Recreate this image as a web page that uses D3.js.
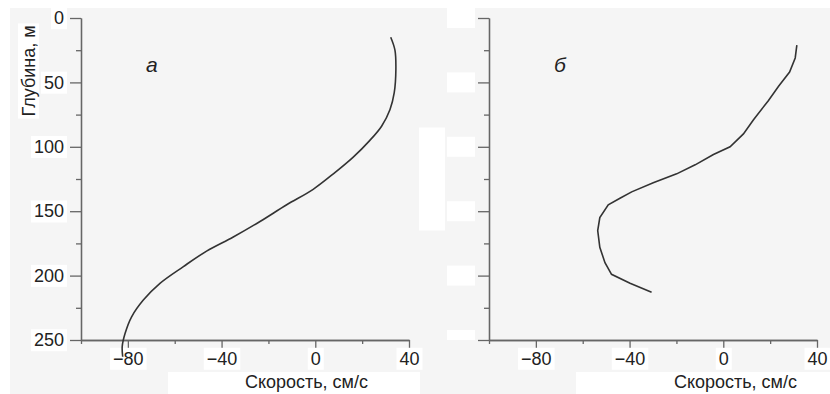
<!DOCTYPE html>
<html>
<head>
<meta charset="utf-8">
<script src="https://cdn.jsdelivr.net/npm/d3@7/dist/d3.min.js"></script>
<style>
  body { margin: 0; background: #fff; }
  svg { display: block; font-family: "Liberation Sans", Arial, sans-serif; }
</style>
</head>
<body>
<svg id="chart" width="830" height="394"></svg>
<script>
// panel а : smooth profile
const depthA = [15, 25, 40, 58, 71, 84, 95, 108, 121, 133, 145, 158, 170, 181, 193, 206, 219, 232, 245, 255, 263]
const speedA = [32.2, 34.0, 34.4, 33.7, 31.9, 28.3, 23.3, 16.2, 7.7, -0.9, -12.2, -23.6, -35.0, -46.4, -56.3, -66.3, -73.4, -78.4, -81.2, -82.4, -82.2]

// panel б : measured profile
const depthB = [21, 31, 42, 53, 64, 79, 90, 100, 106, 114, 121, 128, 135, 140, 145, 155, 165, 178, 190, 199, 206, 213]
const speedB = [31.4, 30.7, 28.3, 23.6, 19.3, 12.9, 8.6, 2.9, -4.2, -12.0, -19.9, -29.9, -39.1, -44.1, -49.1, -52.7, -53.6, -52.7, -50.5, -47.7, -39.8, -30.6]

const speedTicks = [-80, -40, 0, 40]
const speedMinor = [-100, -60, -20, 20]
const depthTicks = [0, 50, 100, 150, 200, 250]
const depthMinor = [25, 75, 125, 175, 225]
const panelLabels = ['а', 'б']
const xTitle = 'Скорость, см/с'
const yTitle = 'Глубина, м'

const svg = d3.select('#chart')
const axisColor = '#666'
const lineColor = '#333'

// scanned-page look: light grey field with white patches behind the labels
svg.append('rect').attr('x', 10).attr('y', 8).attr('width', 820).attr('height', 386).attr('fill', '#f5f5f5')

const y = d3.scaleLinear().domain([0, 250]).range([18, 340])

const panels = [
    { left: 81, depth: depthA, speed: speedA, curve: d3.curveCatmullRom, label: panelLabels[0], labels: true, titleEnd: 287, patch: 252 },
    { left: 489, depth: depthB, speed: speedB, curve: d3.curveLinear, label: panelLabels[1], labels: false, titleEnd: 308, patch: 254 },
]

panels.forEach(p => {
    const x = d3.scaleLinear().domain([-100, 40]).range([0, 328])
    const g = svg.append('g').attr('transform', `translate(${p.left},0)`)

    // white strip under x title
    g.append('rect').attr('x', 87).attr('y', 372).attr('width', p.patch).attr('height', 22).attr('fill', '#fff')

    if (!p.labels) {
        depthTicks.forEach(t => {
            const top = y(t) - 10
            g.append('rect').attr('x', -42).attr('y', top)
                .attr('width', 28).attr('height', Math.min(20, 340 - top)).attr('fill', '#fff')
        })
        g.append('rect').attr('x', -70).attr('y', y(85)).attr('width', 26).attr('height', y(165) - y(85)).attr('fill', '#fff')
    }

    const yMinor = g.append('g').call(d3.axisLeft(y).tickValues(depthMinor).tickSize(5).tickSizeOuter(0).tickFormat(''))
    const yMajor = g.append('g').call(d3.axisLeft(y).tickValues(depthTicks).tickSize(11).tickSizeOuter(0).tickPadding(6)
        .tickFormat(p.labels ? d3.format('d') : ''))
    const xMinor = g.append('g').attr('transform', 'translate(0,340)')
        .call(d3.axisBottom(x).tickValues(speedMinor).tickSize(4).tickSizeOuter(0).tickFormat(''))
    const xMajor = g.append('g').attr('transform', 'translate(0,340)')
        .call(d3.axisBottom(x).tickValues(speedTicks).tickSize(8).tickSizeOuter(0).tickPadding(4).tickFormat(d3.format('d')))

    ;[yMinor, yMajor, xMinor, xMajor].forEach(a => {
        a.selectAll('path, line').attr('stroke', axisColor).attr('stroke-width', 1.3)
        a.selectAll('text').attr('fill', '#222').style('font-size', '18px')
        a.attr('font-family', null).attr('font-size', null)
    })

    // white boxes behind tick labels
    ;[yMajor, xMajor].forEach(a => {
        a.selectAll('.tick').each(function () {
            const tick = d3.select(this)
            const t = tick.select('text')
            if (!t.text()) return
            const b = t.node().getBBox()
            tick.insert('rect', () => t.node())
                .attr('x', b.x - 3).attr('y', b.y - 1).attr('width', b.width + 6).attr('height', b.height + 2)
                .attr('fill', '#fff')
        })
    })

    const line = d3.line()
        .x((d, i) => x(p.speed[i]))
        .y(d => y(d))
        .curve(p.curve)

    g.append('path')
        .datum(p.depth)
        .attr('d', line)
        .attr('fill', 'none')
        .attr('stroke', lineColor)
        .attr('stroke-width', 1.6)

    g.append('text')
        .attr('x', 65)
        .attr('y', 72)
        .attr('font-style', 'italic')
        .style('font-size', '21px')
        .attr('fill', '#222')
        .text(p.label)

    g.append('text')
        .attr('x', p.titleEnd)
        .attr('y', 388)
        .attr('text-anchor', 'end')
        .style('font-size', '18px')
        .attr('fill', '#222')
        .text(xTitle)
})

// y title on the left panel
const yt = svg.append('text')
    .attr('transform', 'translate(35,71) rotate(-90)')
    .attr('text-anchor', 'middle')
    .style('font-size', '18px')
    .attr('fill', '#222')
    .text(yTitle)
const yb = yt.node().getBBox()
svg.insert('rect', () => yt.node())
    .attr('x', 35 - yb.height + 3).attr('y', 71 - yb.width / 2 - 2)
    .attr('width', yb.height + 1).attr('height', yb.width + 4)
    .attr('fill', '#fff')
</script>
</body>
</html>
